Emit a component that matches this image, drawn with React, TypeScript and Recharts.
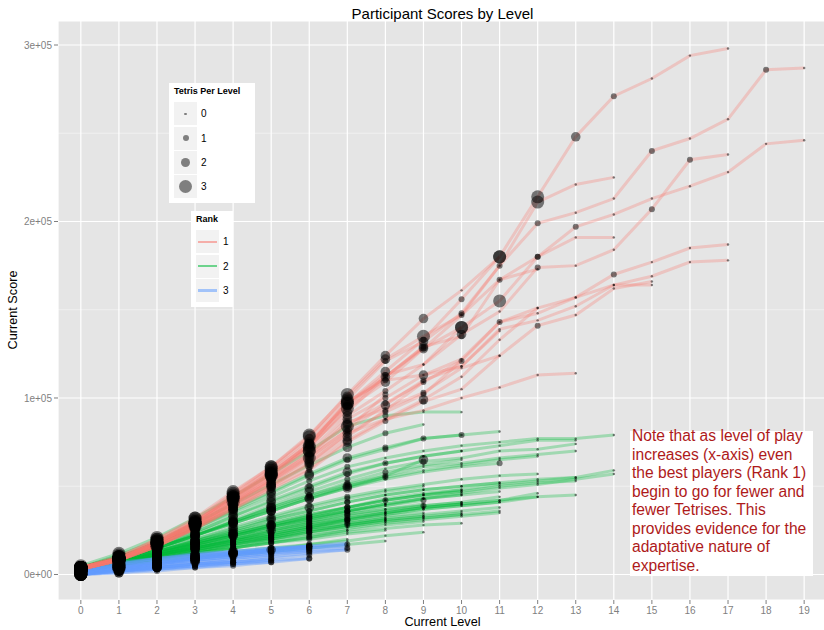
import { ComposedChart, Line, Scatter, XAxis, YAxis, CartesianGrid } from 'recharts';

// scores are in thousands, one array per player, index = level
const levels = [0, 1, 2, 3, 4, 5, 6, 7, 8, 9, 10, 11, 12, 13, 14, 15, 16, 17, 18, 19];
const scoreTicks = [0, 100000, 200000, 300000];
const minorScoreTicks = [50000, 150000, 250000];

const rank1Scores: number[][] = [
    [4, 10, 20, 32, 47, 61, 78, 102, 124, 145, 161, 180, 214, 248, 271, 281, 294, 298],
    [4, 10, 19, 30, 45, 60, 77, 99, 121, 132, 148, 175, 199, 205, 213, 240, 247, 258, 286, 287],
    [4, 9, 18, 29, 42, 56, 72, 95, 112, 128, 140, 155, 180, 197, 204, 213, 220, 228, 244, 246],
    [4, 9, 17, 28, 40, 54, 70, 90, 104, 119, 136, 149, 174, 175, 184, 207, 235, 238],
    [4, 9, 18, 30, 44, 58, 73, 98, 110, 113, 122, 143, 148, 157, 170, 177, 185, 187],
    [3, 8, 16, 27, 39, 52, 66, 82, 96, 110, 118, 139, 144, 152, 164, 169, 177, 178],
    [3, 8, 17, 28, 41, 55, 68, 86, 94, 103, 117, 124, 141, 147, 162, 166],
    [3, 8, 16, 26, 38, 50, 63, 80, 88, 99, 112, 133, 151, 157, 164, 164],
    [4, 10, 20, 31, 46, 61, 79, 101, 122, 135, 147, 175, 211, 221, 225],
    [4, 9, 19, 30, 44, 59, 75, 96, 112, 129, 135, 167, 180, 191, 191],
    [3, 8, 16, 26, 37, 49, 60, 76, 88, 93, 100, 106, 113, 114],
    [4, 9, 18, 29, 43, 57, 72, 94, 109, 128, 147, 167, 173],
    [3, 8, 17, 27, 40, 53, 67, 85, 97, 109, 121, 143, 151],
    [3, 8, 16, 26, 37, 48, 59, 75, 87, 98, 105, 124],
    [4, 9, 17, 28, 41, 54, 68, 88, 100, 113, 118, 138],
    [4, 9, 18, 30, 44, 58, 74, 97, 113, 119, 140],
    [3, 8, 16, 27, 39, 51, 64, 80, 92, 102, 121],
    [3, 8, 16, 26, 38, 50, 62, 78, 93, 109],
    [4, 9, 18, 29, 42, 56, 73, 92, 112, 129],
    [3, 8, 17, 27, 40, 53, 66, 82, 102],
    [4, 9, 18, 29, 43, 57, 74, 97, 115, 133, 156, 180],
];
const rank1Tetris: number[][] = [
    [3, 3, 3, 3, 3, 3, 3, 3, 2, 2, 0, 3, 3, 2, 1, 0, 0, 0],
    [3, 3, 3, 2, 3, 3, 2, 3, 1, 2, 1, 1, 1, 0, 0, 1, 0, 0, 1, 0],
    [3, 3, 3, 3, 2, 3, 3, 2, 0, 1, 3, 3, 1, 1, 0, 0, 0, 0, 0, 0],
    [3, 3, 2, 3, 2, 2, 3, 2, 1, 0, 2, 0, 1, 0, 0, 1, 1, 0],
    [3, 3, 3, 2, 3, 2, 2, 3, 1, 0, 0, 1, 0, 0, 1, 0, 0, 0],
    [3, 2, 3, 2, 2, 2, 3, 2, 2, 1, 0, 0, 0, 0, 0, 0, 0, 0],
    [3, 3, 2, 2, 3, 2, 1, 2, 0, 1, 0, 0, 1, 0, 0, 0],
    [3, 2, 2, 2, 2, 2, 2, 2, 0, 2, 0, 0, 0, 0, 0, 0],
    [3, 3, 3, 3, 3, 3, 3, 2, 2, 3, 1, 0, 3, 0, 0],
    [3, 3, 3, 3, 2, 3, 2, 2, 1, 1, 1, 0, 1, 0, 0],
    [3, 2, 2, 2, 2, 2, 1, 2, 0, 0, 0, 0, 0, 0],
    [3, 3, 3, 3, 3, 3, 2, 3, 2, 2, 0, 1, 0],
    [3, 3, 2, 2, 2, 2, 2, 2, 1, 1, 0, 0, 0],
    [3, 2, 2, 2, 2, 1, 1, 2, 1, 1, 0, 0],
    [3, 3, 2, 3, 2, 2, 2, 2, 1, 2, 0, 0],
    [3, 3, 3, 3, 3, 3, 2, 3, 1, 0, 3],
    [3, 2, 2, 2, 2, 2, 2, 1, 1, 1, 1],
    [3, 2, 2, 2, 2, 2, 1, 2, 1, 0],
    [3, 3, 3, 3, 2, 3, 3, 2, 2, 2],
    [3, 2, 2, 2, 2, 1, 2, 1, 1],
    [3, 3, 3, 3, 3, 3, 2, 3, 2, 1, 1, 3],
];

const rank2Scores: number[][] = [
    [4, 10, 17, 26, 35, 44, 53, 61, 66, 70, 73, 75, 77, 77, 79],
    [3, 8, 13, 19, 24, 29, 34, 38, 42, 45, 48, 51, 53, 55, 59],
    [3, 7, 12, 17, 22, 27, 32, 36, 40, 43, 46, 49, 51, 54, 57],
    [4, 9, 16, 24, 33, 42, 50, 58, 63, 67, 70, 73, 76, 76],
    [4, 9, 15, 23, 31, 39, 47, 54, 60, 64, 66, 70, 71, 74],
    [3, 9, 15, 22, 30, 38, 45, 51, 56, 61, 63, 66, 68, 70],
    [3, 8, 13, 19, 25, 31, 36, 41, 45, 48, 50, 52, 54, 55],
    [3, 7, 12, 18, 23, 28, 33, 38, 42, 45, 47, 50, 52, 53],
    [3, 7, 11, 15, 20, 24, 28, 31, 34, 37, 39, 41, 44, 45],
    [4, 9, 15, 22, 30, 37, 44, 50, 55, 59, 62, 65, 67],
    [3, 8, 14, 20, 27, 33, 39, 44, 48, 51, 54, 56, 57],
    [3, 7, 11, 16, 20, 25, 29, 32, 35, 38, 40, 42, 44],
    [4, 10, 18, 27, 37, 47, 57, 66, 72, 77, 79, 81],
    [4, 9, 15, 22, 29, 36, 43, 49, 54, 58, 61, 63],
    [3, 8, 13, 19, 25, 31, 36, 41, 45, 48, 50, 52],
    [3, 7, 12, 17, 22, 27, 32, 36, 40, 43, 45, 47],
    [3, 7, 11, 15, 19, 23, 27, 31, 34, 37, 39, 41],
    [2, 6, 10, 13, 17, 20, 23, 26, 29, 31, 33, 35],
    [5, 12, 21, 32, 44, 57, 70, 84, 90, 92, 92],
    [4, 10, 17, 26, 36, 46, 56, 65, 71, 77, 79],
    [4, 9, 16, 24, 33, 41, 49, 57, 63, 67, 70],
    [4, 9, 15, 22, 30, 38, 45, 52, 58, 62, 65],
    [3, 8, 13, 18, 24, 29, 34, 38, 42, 45, 47],
    [3, 7, 12, 17, 22, 26, 30, 34, 37, 39, 41],
    [2, 6, 10, 14, 18, 21, 25, 28, 31, 33, 35],
    [2, 6, 9, 12, 15, 18, 21, 24, 26, 28, 29],
    [4, 11, 19, 29, 40, 51, 62, 72, 80, 85],
    [4, 9, 15, 22, 29, 36, 43, 50, 56, 65],
    [3, 8, 14, 20, 26, 32, 38, 43, 47, 50],
    [3, 7, 12, 17, 22, 27, 31, 35, 39, 42],
    [3, 7, 11, 15, 19, 23, 27, 30, 33, 35],
    [2, 5, 8, 11, 13, 15, 17, 19, 22, 24],
    [4, 9, 15, 22, 29, 36, 43, 49, 55],
    [3, 8, 13, 18, 23, 28, 32, 36, 40],
    [3, 7, 11, 15, 19, 22, 26, 29, 32],
    [2, 6, 9, 12, 15, 18, 20, 23, 25],
    [2, 5, 7, 9, 11, 13, 15, 17, 19],
    [3, 7, 11, 14, 18, 22, 26, 31],
    [2, 6, 9, 12, 15, 18, 21, 25],
    [2, 5, 8, 10, 12, 14, 17, 20],
    [3, 7, 11, 15, 19, 23, 27, 31, 35, 38, 40],
    [2, 6, 10, 14, 18, 22, 26, 29, 32, 34, 36, 38],
    [3, 7, 12, 16, 21, 25, 30, 34, 37, 40],
    [2, 6, 9, 13, 16, 20, 24, 27, 30, 32, 34],
    [3, 8, 12, 17, 22, 27, 31, 36, 39, 43, 45],
    [2, 6, 10, 13, 17, 21, 24, 28, 31, 33],
    [3, 7, 11, 16, 20, 25, 29, 33, 36, 39, 41, 44],
    [2, 5, 9, 12, 15, 19, 22, 25, 28, 30],
    [3, 8, 13, 18, 23, 28, 33, 38, 43, 46, 48],
    [2, 6, 10, 14, 17, 21, 25, 28, 31],
    [3, 7, 11, 15, 20, 24, 28, 32, 35, 38, 40, 42, 46],
    [2, 6, 9, 13, 17, 20, 24, 27, 30, 32, 34, 36],
];
const rank2Tetris: number[][] = [
    [3, 3, 2, 2, 2, 2, 1, 1, 0, 0, 0, 0, 0, 0, 0],
    [3, 3, 2, 2, 1, 1, 1, 0, 1, 0, 0, 0, 0, 0, 0],
    [3, 2, 2, 2, 1, 1, 1, 1, 0, 0, 0, 0, 0, 0, 0],
    [3, 3, 3, 2, 2, 2, 1, 2, 1, 0, 0, 0, 0, 0],
    [3, 3, 2, 2, 2, 2, 2, 1, 0, 1, 0, 0, 0, 0],
    [3, 3, 2, 2, 2, 2, 1, 1, 0, 0, 0, 0, 0, 0],
    [3, 2, 2, 2, 1, 2, 1, 1, 0, 0, 0, 0, 0, 0],
    [3, 2, 2, 2, 1, 1, 1, 1, 0, 0, 0, 0, 0, 0],
    [3, 2, 2, 1, 1, 1, 1, 0, 0, 0, 0, 0, 0, 0],
    [3, 3, 2, 2, 2, 2, 1, 1, 1, 0, 0, 0, 0],
    [3, 3, 2, 2, 2, 1, 1, 1, 0, 0, 0, 0, 0],
    [3, 2, 2, 1, 1, 1, 1, 0, 0, 0, 0, 0, 0],
    [3, 3, 3, 3, 2, 2, 2, 2, 1, 0, 0, 0],
    [3, 3, 2, 2, 2, 2, 1, 1, 0, 0, 0, 1],
    [3, 2, 2, 2, 2, 1, 1, 1, 0, 0, 0, 0],
    [3, 2, 2, 2, 1, 1, 1, 1, 0, 0, 0, 0],
    [3, 2, 2, 1, 1, 1, 1, 1, 0, 0, 0, 0],
    [3, 2, 2, 1, 1, 1, 1, 0, 0, 0, 0, 0],
    [3, 3, 3, 3, 3, 3, 3, 3, 1, 0, 0],
    [3, 3, 3, 2, 2, 2, 2, 1, 1, 1, 1],
    [3, 3, 2, 2, 2, 2, 2, 1, 0, 0, 0],
    [3, 3, 2, 2, 2, 2, 1, 1, 1, 0, 0],
    [3, 2, 2, 2, 2, 1, 1, 1, 0, 0, 0],
    [3, 2, 2, 2, 1, 1, 1, 1, 0, 1, 0],
    [3, 2, 2, 2, 1, 1, 1, 0, 0, 0, 0],
    [3, 2, 2, 1, 1, 1, 1, 0, 0, 0, 0],
    [3, 3, 3, 3, 2, 2, 2, 2, 1, 0],
    [3, 3, 2, 2, 2, 2, 2, 2, 1, 2],
    [3, 3, 2, 2, 2, 2, 2, 1, 0, 0],
    [3, 2, 2, 2, 2, 2, 1, 1, 0, 1],
    [3, 2, 2, 2, 1, 1, 1, 1, 0, 0],
    [3, 2, 2, 1, 1, 1, 1, 0, 0, 0],
    [3, 3, 2, 2, 2, 2, 2, 2, 0],
    [3, 3, 2, 2, 2, 2, 1, 1, 0],
    [3, 2, 2, 2, 1, 1, 1, 1, 0],
    [3, 2, 2, 1, 1, 1, 1, 0, 0],
    [3, 2, 1, 1, 1, 1, 1, 0, 0],
    [3, 2, 2, 2, 1, 1, 1, 1],
    [3, 2, 2, 1, 1, 1, 1, 0],
    [3, 2, 1, 1, 1, 1, 1, 0],
    [3, 2, 2, 2, 1, 1, 1, 1, 0, 0, 0],
    [3, 2, 2, 1, 1, 1, 1, 0, 0, 0, 0, 0],
    [3, 2, 2, 2, 1, 2, 1, 1, 0, 0],
    [3, 2, 2, 1, 1, 1, 1, 0, 0, 0, 0],
    [3, 3, 2, 2, 2, 1, 1, 1, 0, 0, 0],
    [3, 2, 2, 1, 1, 1, 1, 1, 0, 0],
    [3, 2, 2, 2, 1, 1, 1, 1, 0, 0, 0, 0],
    [3, 2, 1, 1, 1, 1, 1, 0, 0, 0],
    [3, 3, 2, 2, 2, 2, 1, 1, 0, 0, 0],
    [3, 2, 2, 1, 1, 1, 1, 0, 0],
    [3, 2, 2, 2, 1, 1, 1, 1, 0, 0, 0, 0, 0],
    [3, 2, 2, 1, 1, 1, 1, 0, 0, 0, 0, 0],
];

const rank3Scores: number[][] = [
    [1, 4, 7, 10, 12, 14, 16, 17],
    [0, 3, 6, 9, 11, 13, 15, 16],
    [2, 5, 7, 9, 11, 13, 15],
    [1, 3, 5, 7, 9, 11, 13],
    [0, 2, 4, 6, 8, 10, 12, 14],
    [2, 5, 8, 10, 12, 14],
    [1, 3, 5, 7, 9, 11],
    [0, 2, 4, 6, 7, 9],
    [1, 4, 6, 8, 10],
    [0, 2, 3, 5, 7],
    [2, 4, 6, 9, 11, 13, 14],
    [1, 3, 6, 8, 10, 12, 14, 15],
    [0, 1, 3, 5, 6, 8, 9],
    [1, 2, 4, 6, 8],
    [2, 4, 7, 9, 12, 14, 16],
    [0, 2, 3, 4, 6, 7],
    [1, 3, 4, 6, 7, 9, 11],
    [2, 5, 7, 10, 12],
    [3, 7, 9, 12, 13, 15, 16],
    [2, 6, 9, 11, 13, 15, 16, 18],
    [1, 4, 6, 9, 11, 13],
    [0, 1, 2, 4, 5, 7, 9],
    [1, 3, 5, 8, 10, 12, 13, 14],
    [2, 6, 8, 11, 13, 14, 16],
    [0, 2, 4, 5, 7, 8],
    [3, 6, 9, 11, 12, 14, 15, 17],
];
const rank3Tetris: number[][] = [
    [3, 3, 2, 2, 2, 1, 1, 0],
    [3, 3, 2, 2, 1, 1, 1, 0],
    [3, 3, 2, 2, 1, 1, 1],
    [3, 2, 2, 1, 1, 1, 1],
    [3, 2, 2, 1, 1, 1, 1, 1],
    [3, 3, 2, 2, 2, 1],
    [3, 2, 2, 2, 1, 1],
    [3, 2, 2, 1, 1, 1],
    [3, 3, 2, 2, 1],
    [3, 2, 1, 1, 1],
    [3, 3, 2, 2, 2, 1, 1],
    [3, 2, 2, 2, 1, 1, 1, 1],
    [3, 2, 1, 1, 1, 1, 1],
    [3, 2, 2, 1, 1],
    [3, 3, 2, 2, 2, 2, 1],
    [3, 2, 1, 1, 1, 1],
    [3, 2, 2, 1, 1, 1, 1],
    [3, 3, 2, 2, 1],
    [3, 3, 2, 2, 2, 1, 1],
    [3, 3, 2, 2, 1, 1, 1, 0],
    [3, 2, 2, 2, 1, 1],
    [3, 2, 1, 1, 1, 1, 1],
    [3, 2, 2, 2, 1, 1, 1, 0],
    [3, 3, 2, 2, 2, 1, 1],
    [3, 2, 2, 1, 1, 1],
    [3, 3, 2, 2, 2, 1, 1, 1],
];

const rankColors: Record<number, string> = { 1: '#F8766D', 2: '#00BA38', 3: '#619CFF' };
const dotRadius = [1.2, 3, 4.8, 6.5];

// green first, then blue, red on top
const players = [
    ...rank2Scores.map((s, i) => ({ rank: 2, scores: s, tetris: rank2Tetris[i] })),
    ...rank3Scores.map((s, i) => ({ rank: 3, scores: s, tetris: rank3Tetris[i] })),
    ...rank1Scores.map((s, i) => ({ rank: 1, scores: s, tetris: rank1Tetris[i] })),
];

const table = levels.map((level) => {
    const row: any = { level };
    players.forEach((p, i) => {
        if (level < p.scores.length) row[`p${i}`] = p.scores[level] * 1000;
    });
    return row;
});

const points = players.flatMap((p) =>
    p.scores.map((s, level) => ({ level, score: s * 1000, tetris: p.tetris[level] ?? 0 }))
);

const font = '"Liberation Sans", Arial, Helvetica, sans-serif';

const formatScore = (v: number) => (v === 0 ? '0e+00' : `${v / 100000}e+05`);

const renderPoint = (props: any) => {
    const { cx, cy, payload } = props;
    if (cx == null || cy == null) return <g />;
    return <circle cx={cx} cy={cy} r={dotRadius[payload.tetris] ?? 1.2} fill="#000" fillOpacity={0.5} />;
};

const keyBox = { width: 23, height: 23, background: '#F2F2F2', display: 'flex', alignItems: 'center', justifyContent: 'center' } as const;

export default function App() {
    return (
        <div style={{ position: 'absolute', left: 0, top: 0, width: 824, height: 630, overflow: 'hidden', background: '#fff', fontFamily: font }}>
            <ComposedChart width={830} height={630} data={table} margin={{ top: 21, right: 3, bottom: 0, left: 0 }}>
                <CartesianGrid vertical={false} horizontalValues={minorScoreTicks} stroke="#F2F2F2" strokeWidth={0.8} fill="#E5E5E5" />
                <CartesianGrid stroke="#FFFFFF" strokeWidth={1.2} />
                <XAxis
                    type="number"
                    dataKey="level"
                    domain={[-0.6, 19.6]}
                    ticks={levels}
                    allowDataOverflow
                    axisLine={false}
                    tickSize={4}
                    tickMargin={3}
                    height={30}
                    tickLine={{ stroke: '#7F7F7F' }}
                    tick={{ fill: '#7F7F7F', fontSize: 10, fontFamily: font }}
                />
                <YAxis
                    type="number"
                    domain={[-14450, 313600]}
                    ticks={scoreTicks}
                    allowDataOverflow
                    axisLine={false}
                    tickSize={4}
                    tickMargin={2}
                    width={58}
                    tickFormatter={formatScore}
                    tickLine={{ stroke: '#7F7F7F' }}
                    tick={{ fill: '#7F7F7F', fontSize: 10, fontFamily: font }}
                />
                {players.map((p, i) => (
                    <Line
                        key={`p${i}`}
                        type="linear"
                        dataKey={`p${i}`}
                        stroke={rankColors[p.rank]}
                        strokeOpacity={p.rank === 3 ? 0.4 : 0.3}
                        strokeWidth={3}
                        dot={false}
                        activeDot={false}
                        connectNulls={false}
                        isAnimationActive={false}
                    />
                ))}
                <Scatter data={points} dataKey="score" shape={renderPoint} isAnimationActive={false} />
            </ComposedChart>

            <div style={{ position: 'absolute', left: 0, top: 5, width: 885, textAlign: 'center', fontSize: 15, color: '#000' }}>
                Participant Scores by Level
            </div>
            <div style={{ position: 'absolute', left: 0, top: 615, width: 885, textAlign: 'center', fontSize: 12.7, color: '#000' }}>
                Current Level
            </div>
            <div style={{ position: 'absolute', left: 13, top: 310, transform: 'translate(-50%, -50%) rotate(-90deg)', fontSize: 12.7, whiteSpace: 'nowrap', color: '#000' }}>
                Current Score
            </div>

            {/* size legend */}
            <div style={{ position: 'absolute', left: 169, top: 83, width: 86, height: 120, background: '#fff', boxSizing: 'border-box', padding: '3px 0 0 5px' }}>
                <div style={{ fontSize: 9, fontWeight: 'bold', height: 15 }}>Tetris Per Level</div>
                {dotRadius.map((r, i) => (
                    <div key={i} style={{ display: 'flex', alignItems: 'center', height: 23, marginTop: 1.3 }}>
                        <div style={keyBox}>
                            <div style={{ width: r * 2, height: r * 2, borderRadius: '50%', background: '#7F7F7F' }} />
                        </div>
                        <span style={{ fontSize: 10, marginLeft: 4 }}>{i}</span>
                    </div>
                ))}
            </div>

            {/* rank legend */}
            <div style={{ position: 'absolute', left: 191, top: 211, width: 42, height: 96, background: '#fff', boxSizing: 'border-box', padding: '3px 0 0 5px' }}>
                <div style={{ fontSize: 9, fontWeight: 'bold', height: 15 }}>Rank</div>
                {[1, 2, 3].map((rk) => (
                    <div key={rk} style={{ display: 'flex', alignItems: 'center', height: 23, marginTop: 1.3 }}>
                        <div style={keyBox}>
                            <div style={{ width: 19, height: 2.5, background: rankColors[rk], opacity: 0.55 }} />
                        </div>
                        <span style={{ fontSize: 10, marginLeft: 4 }}>{rk}</span>
                    </div>
                ))}
            </div>

            {/* annotation */}
            <div style={{ position: 'absolute', left: 630, top: 431, width: 183, height: 145, background: '#fff' }} />
            <div style={{ position: 'absolute', left: 632, top: 427, width: 200, fontSize: 15.6, lineHeight: '18.5px', color: '#AE1A1A', whiteSpace: 'nowrap' }}>
                Note that as level of play<br />
                increases (x-axis) even<br />
                the best players (Rank 1)<br />
                begin to go for fewer and<br />
                fewer Tetrises. This<br />
                provides evidence for the<br />
                adaptative nature of<br />
                expertise.
            </div>
        </div>
    );
}
